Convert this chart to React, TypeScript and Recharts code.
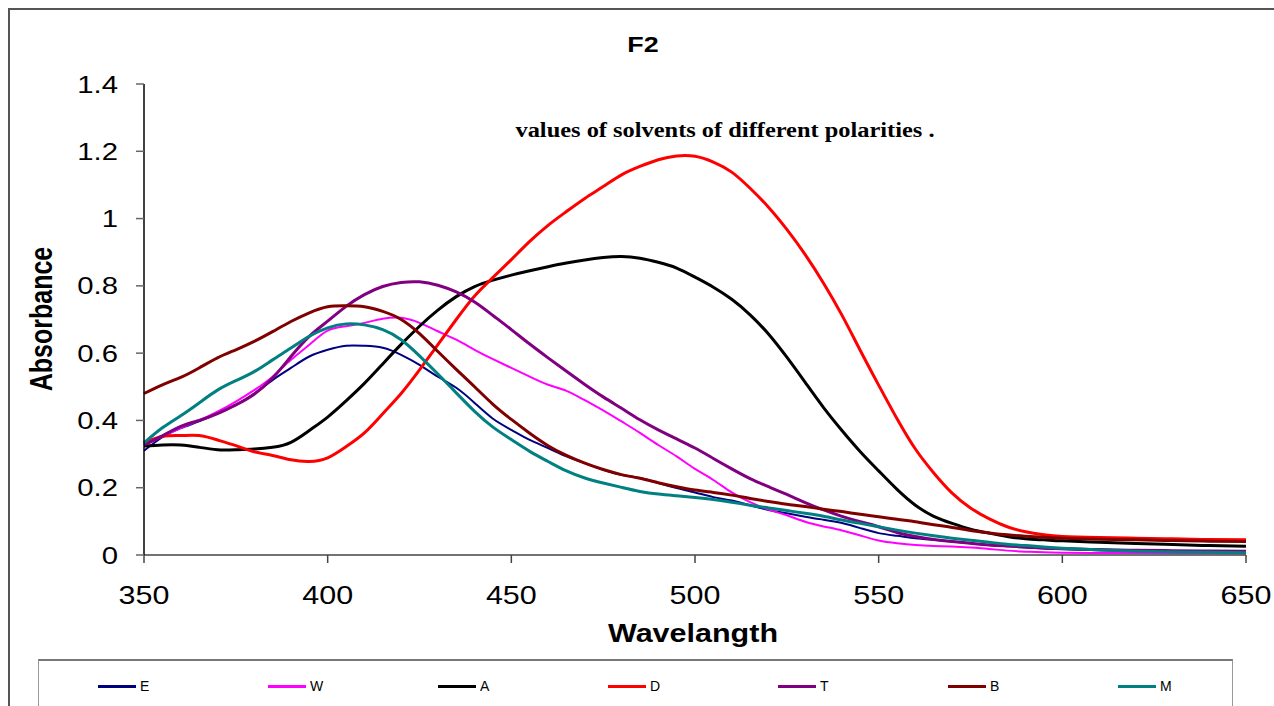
import { LineChart, Line, XAxis, YAxis } from 'recharts'

// wavelength (nm) - 5 nm steps up to 600, 10 nm in the flat tail
const wavelengths = [
  350, 355, 360, 365, 370, 375, 380, 385, 390, 395,
  400, 405, 410, 415, 420, 425, 430, 435, 440, 445,
  450, 455, 460, 465, 470, 475, 480, 485, 490, 495,
  500, 505, 510, 515, 520, 525, 530, 535, 540, 545,
  550, 555, 560, 565, 570, 575, 580, 585, 590, 595,
  600, 610, 620, 630, 640, 650,
]

const absE = [
  0.31, 0.35, 0.377, 0.397, 0.42, 0.446, 0.48, 0.52, 0.556, 0.59,
  0.61, 0.622, 0.622, 0.616, 0.595, 0.565, 0.53, 0.497, 0.452, 0.405,
  0.372, 0.342, 0.318, 0.293, 0.273, 0.253, 0.238, 0.229, 0.214, 0.199,
  0.186, 0.172, 0.162, 0.148, 0.134, 0.124, 0.114, 0.105, 0.095, 0.08,
  0.065, 0.057, 0.05, 0.045, 0.04, 0.035, 0.03, 0.026, 0.022, 0.019,
  0.017, 0.014, 0.012, 0.01, 0.009, 0.008,
]

const absW = [
  0.327, 0.352, 0.377, 0.4, 0.426, 0.456, 0.49, 0.53, 0.58, 0.625,
  0.667, 0.68, 0.69, 0.702, 0.705, 0.69, 0.665, 0.64, 0.61, 0.582,
  0.556, 0.53, 0.506, 0.488, 0.46, 0.43, 0.397, 0.363, 0.327, 0.293,
  0.256, 0.223, 0.186, 0.157, 0.135, 0.118, 0.099, 0.085, 0.073, 0.058,
  0.043, 0.035, 0.03, 0.027, 0.025, 0.022, 0.018, 0.013, 0.01, 0.008,
  0.007, 0.006, 0.006, 0.005, 0.005, 0.005,
]

const absA = [
  0.324, 0.327, 0.327, 0.32, 0.313, 0.313, 0.315, 0.32, 0.335, 0.37,
  0.41, 0.458, 0.51, 0.568, 0.626, 0.68, 0.728, 0.768, 0.798, 0.817,
  0.832, 0.845, 0.857, 0.868, 0.877, 0.884, 0.887, 0.882, 0.87, 0.853,
  0.826, 0.796, 0.76, 0.714, 0.657, 0.588, 0.513, 0.438, 0.37, 0.307,
  0.25, 0.195, 0.148, 0.115, 0.094, 0.077, 0.065, 0.055, 0.048, 0.045,
  0.042, 0.038, 0.034, 0.031, 0.028, 0.026,
]

const absD = [
  0.333, 0.352, 0.355, 0.355, 0.342, 0.325, 0.307, 0.296, 0.283, 0.278,
  0.289, 0.322, 0.363, 0.42, 0.48, 0.55, 0.625, 0.7, 0.77, 0.825,
  0.878, 0.932, 0.98, 1.021, 1.06, 1.095, 1.13, 1.155, 1.175, 1.186,
  1.185, 1.168, 1.138, 1.09, 1.034, 0.968, 0.893, 0.808, 0.713, 0.608,
  0.505, 0.405, 0.315, 0.244, 0.184, 0.14, 0.108, 0.084, 0.069, 0.06,
  0.055, 0.052, 0.05, 0.048, 0.046, 0.045,
]

const absT = [
  0.327, 0.354, 0.382, 0.4, 0.42, 0.446, 0.478, 0.526, 0.59, 0.65,
  0.695, 0.739, 0.774, 0.798, 0.81, 0.812, 0.802, 0.782, 0.752, 0.712,
  0.67, 0.627, 0.586, 0.546, 0.507, 0.47, 0.436, 0.402, 0.372, 0.345,
  0.318, 0.287, 0.256, 0.227, 0.203, 0.18, 0.156, 0.134, 0.115, 0.099,
  0.084, 0.067, 0.055, 0.046, 0.04, 0.035, 0.03, 0.027, 0.024, 0.021,
  0.019, 0.016, 0.014, 0.013, 0.012, 0.011,
]

const absB = [
  0.48, 0.506, 0.528, 0.556, 0.586, 0.61, 0.635, 0.664, 0.694, 0.72,
  0.738, 0.741, 0.738, 0.724, 0.7, 0.658, 0.605, 0.552, 0.5, 0.448,
  0.403, 0.362, 0.325, 0.296, 0.273, 0.254, 0.239, 0.228, 0.215, 0.203,
  0.193, 0.186, 0.178, 0.168, 0.159, 0.151, 0.144, 0.136, 0.129, 0.121,
  0.114, 0.106, 0.099, 0.09, 0.082, 0.073, 0.066, 0.06, 0.056, 0.053,
  0.05, 0.047, 0.045, 0.043, 0.041, 0.04,
]

const absM = [
  0.333, 0.378, 0.414, 0.452, 0.49, 0.518, 0.545, 0.58, 0.615, 0.65,
  0.675, 0.687, 0.684, 0.67, 0.64, 0.592, 0.538, 0.482, 0.427, 0.38,
  0.343, 0.308, 0.278, 0.25, 0.229, 0.214, 0.201, 0.189, 0.181, 0.176,
  0.171, 0.165, 0.157, 0.148, 0.14, 0.132, 0.124, 0.115, 0.104, 0.094,
  0.084, 0.074, 0.065, 0.057, 0.05, 0.044, 0.038, 0.032, 0.028, 0.024,
  0.02, 0.015, 0.011, 0.009, 0.008, 0.007,
]

const xTicks = [350, 400, 450, 500, 550, 600, 650]
const yTicks = [0, 0.2, 0.4, 0.6, 0.8, 1, 1.2, 1.4]

const SERIES = [
  { key: 'E', color: '#000080', width: 2, values: absE },
  { key: 'W', color: '#FF00FF', width: 2, values: absW },
  { key: 'A', color: '#000000', width: 3, values: absA },
  { key: 'D', color: '#FF0000', width: 3, values: absD },
  { key: 'T', color: '#800080', width: 3, values: absT },
  { key: 'B', color: '#800000', width: 3, values: absB },
  { key: 'M', color: '#008080', width: 3, values: absM },
]

const rows = wavelengths.map((w, i) => {
  const row: Record<string, number> = { w }
  SERIES.forEach(s => { row[s.key] = s.values[i] })
  return row
})

const SANS = '"Liberation Sans", Arial, sans-serif'
const SERIF = '"Liberation Serif", "Times New Roman", serif'
// the original picture is stretched sideways, so text is widened a bit
const STRETCH = 1.22

function XTick({ x, y, payload }: any) {
  return (
    <text
      x={0} y={0} dy="0.71em"
      transform={`translate(${x},${y}) scale(${STRETCH},1)`}
      textAnchor="middle" fontSize={25} fontFamily={SANS} fill="#000"
    >
      {payload.value}
    </text>
  )
}

function YTick({ x, y, payload }: any) {
  return (
    <text
      x={0} y={0} dy="0.355em"
      transform={`translate(${x},${y}) scale(${STRETCH},1)`}
      textAnchor="end" fontSize={24} fontFamily={SANS} fill="#000"
    >
      {payload.value}
    </text>
  )
}

export default function App() {
  return (
    <div style={{
      position: 'fixed', left: 0, top: 0, width: 1274, height: 706,
      overflow: 'hidden', background: '#fff',
    }}>
      {/* outer chart frame, runs off the right/bottom edge */}
      <div style={{
        position: 'absolute', left: 8, top: 8, width: 1400, height: 900,
        border: '2px solid #555', boxSizing: 'border-box',
      }} />

      <div style={{ position: 'absolute', left: 0, top: 0 }}>
        <LineChart
          width={1274}
          height={706}
          data={rows}
          margin={{ top: 84, right: 28, left: 84, bottom: 101 }}
        >
          <XAxis
            dataKey="w"
            type="number"
            domain={[350, 650]}
            ticks={xTicks}
            height={50}
            tickSize={8}
            tickMargin={23}
            axisLine={{ stroke: '#444', strokeWidth: 1.5 }}
            tickLine={{ stroke: '#444', strokeWidth: 1.5 }}
            tick={<XTick />}
          />
          <YAxis
            type="number"
            domain={[0, 1.4]}
            ticks={yTicks}
            width={60}
            tickSize={8}
            tickMargin={18}
            axisLine={{ stroke: '#000', strokeWidth: 1.5 }}
            tickLine={{ stroke: '#666', strokeWidth: 1.5 }}
            tick={<YTick />}
          />
          {SERIES.map(s => (
            <Line
              key={s.key}
              dataKey={s.key}
              type="natural"
              stroke={s.color}
              strokeWidth={s.width}
              dot={false}
              isAnimationActive={false}
            />
          ))}
        </LineChart>
      </div>

      <div style={{
        position: 'absolute', left: 643, top: 45, transform: `translate(-50%,-50%) scaleX(${STRETCH})`,
        fontFamily: SANS, fontWeight: 'bold', fontSize: 22, whiteSpace: 'nowrap',
      }}>
        F2
      </div>

      <div style={{
        position: 'absolute', left: 725, top: 130, transform: `translate(-50%,-50%) scaleX(${STRETCH})`,
        fontFamily: SERIF, fontWeight: 'bold', fontSize: 20, whiteSpace: 'nowrap',
      }}>
        values of solvents of different polarities .
      </div>

      <div style={{
        position: 'absolute', left: 42, top: 319,
        transform: `translate(-50%,-50%) rotate(-90deg) scaleY(${STRETCH})`,
        fontFamily: SANS, fontWeight: 'bold', fontSize: 25, whiteSpace: 'nowrap',
      }}>
        Absorbance
      </div>

      <div style={{
        position: 'absolute', left: 693, top: 633, transform: `translate(-50%,-50%) scaleX(${STRETCH})`,
        fontFamily: SANS, fontWeight: 'bold', fontSize: 25, whiteSpace: 'nowrap',
      }}>
        Wavelangth
      </div>

      {/* legend */}
      <div style={{
        position: 'absolute', left: 38, top: 659, width: 1195, height: 80,
        border: '1px solid #999', borderTop: '2px solid #777', boxSizing: 'border-box',
      }} />
      {SERIES.map((s, i) => (
        <div
          key={s.key}
          style={{
            position: 'absolute', left: 98 + i * 170, top: 678,
            display: 'flex', alignItems: 'center', height: 16,
          }}
        >
          <span style={{ display: 'inline-block', width: 38, height: 3, background: s.color }} />
          <span style={{ marginLeft: 4, fontFamily: SANS, fontSize: 14 }}>
            {s.key}
          </span>
        </div>
      ))}
    </div>
  )
}
